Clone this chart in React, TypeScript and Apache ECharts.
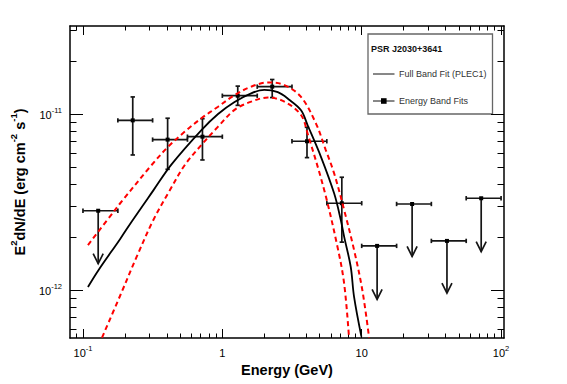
import React, { useEffect, useRef } from 'react';
import * as echarts from 'echarts';

// ---- Data (GeV, erg cm^-2 s^-1) ----
const ptE = [0.2276, 0.405, 0.72, 1.29, 2.28, 4.05, 7.2];
const ptELo = [0.178, 0.316, 0.562, 1.0, 1.78, 3.16, 5.62];
const ptEHi = [0.316, 0.562, 1.0, 1.78, 3.16, 5.62, 10.0];
const ptFlux = [9.2e-12, 7.15e-12, 7.43e-12, 1.27e-11, 1.43e-11, 7.0e-12, 3.11e-12];
const ptFluxLo = [5.85e-12, 4.85e-12, 5.48e-12, 1.12e-11, 1.24e-11, 5.65e-12, 1.87e-12];
const ptFluxHi = [1.25e-11, 9.46e-12, 9.4e-12, 1.44e-11, 1.57e-11, 8.4e-12, 4.37e-12];

const ulE = [0.1286, 12.9, 23, 40.9, 72];
const ulELo = [0.1, 10, 17.8, 31.6, 56.2];
const ulEHi = [0.178, 17.8, 31.6, 56.2, 100];
const ulFlux = [2.82e-12, 1.78e-12, 3.08e-12, 1.9e-12, 3.32e-12];
const ulTip = [1.41e-12, 8.85e-13, 1.55e-12, 9.6e-13, 1.65e-12];

const fitE = [0.1086, 0.1295, 0.185, 0.224, 0.32, 0.432, 0.708, 0.932, 1.224, 1.61, 2.0, 2.5, 3.0, 3.67, 4.1, 5.1, 6.34, 7.08, 7.48, 8.34, 8.81, 9.95];
const fitFlux = [1.04e-12, 1.3e-12, 1.95e-12, 2.45e-12, 3.68e-12, 5.17e-12, 8.1e-12, 1.0e-11, 1.17e-11, 1.31e-11, 1.37e-11, 1.33e-11, 1.21e-11, 1.05e-11, 8.6e-12, 5.71e-12, 3.54e-12, 2.5e-12, 2.01e-12, 1.355e-12, 9.16e-13, 5.43e-13];

const upE = [0.1086, 0.17, 0.185, 0.311, 0.409, 0.538, 0.708, 0.932, 1.224, 1.61, 2.12, 2.79, 3.67, 4.69, 5.5, 6.34, 7.48, 8.81, 10.1, 11.3];
const upFlux = [1.8e-12, 2.85e-12, 3.11e-12, 5.13e-12, 6.52e-12, 7.94e-12, 9.46e-12, 1.1e-11, 1.28e-11, 1.43e-11, 1.51e-11, 1.46e-11, 1.25e-11, 8.85e-12, 6.3e-12, 4.6e-12, 2.85e-12, 1.69e-12, 1.0e-12, 5.36e-13];

const loE = [0.137, 0.185, 0.243, 0.32, 0.421, 0.538, 0.708, 0.932, 1.224, 1.61, 2.12, 2.79, 3.67, 4.1, 5.38, 6.7, 7.48, 8.11];
const loFlux = [5.36e-13, 9.3e-13, 1.545e-12, 2.5e-12, 3.7e-12, 5.13e-12, 6.67e-12, 8.47e-12, 1.055e-11, 1.175e-11, 1.24e-11, 1.175e-11, 9.87e-12, 7.7e-12, 3.7e-12, 1.76e-12, 1.09e-12, 5.36e-13];

// ---- Axes / tick labels ----
const xMajor = [0.1, 1, 10, 100];
const xMajorLabels = ['{b|10}{s|-1}', '{b|1}', '{b|10}', '{b|10}{s|2}'];
const yMajor = [1e-12, 1e-11];
const yMajorLabels = ['{b|10}{s|-12}', '{b|10}{s|-11}'];
const xLogMin = -1.093;
const xLogMax = 2.021;
const yLogMin = -12.273;
const yLogMax = -10.5;

const L = Math.log10;
const FONT = '"Liberation Sans", Arial, Helvetica, sans-serif';

function minorTicks(lo: number, hi: number) {
  const out: number[] = [];
  for (let d = Math.floor(lo) - 1; d <= Math.ceil(hi); d++) {
    for (let k = 2; k <= 9; k++) {
      const v = d + L(k);
      if (v > lo + 0.002 && v < hi - 0.002) out.push(v);
    }
  }
  return out;
}

const xMinor = minorTicks(xLogMin, xLogMax);
const yMinor = minorTicks(yLogMin, yLogMax);

function labelFor(vals: number[], labels: string[]) {
  return (v: number) => {
    for (let i = 0; i < vals.length; i++) if (Math.abs(L(vals[i]) - v) < 1e-6) return labels[i];
    return '';
  };
}

const labelRich = {
  b: { fontSize: 11, fontFamily: FONT, color: '#000', lineHeight: 14, verticalAlign: 'bottom' },
  s: { fontSize: 7.5, fontFamily: FONT, color: '#000', lineHeight: 14, verticalAlign: 'top' },
};

const blank = { show: false };
const noLine = { show: false, onZero: false };

function xAx(position: string, major: boolean, withLabel: boolean) {
  return {
    type: 'value',
    position,
    min: xLogMin,
    max: xLogMax,
    axisLine: major ? { show: true, onZero: false, lineStyle: { color: '#000', width: 1.5 } } : noLine,
    axisTick: {
      show: true,
      inside: true,
      length: major ? 9 : 4.5,
      customValues: major ? xMajor.map(L) : xMinor,
      lineStyle: { color: '#000', width: 1 },
    },
    axisLabel: withLabel
      ? { show: true, customValues: xMajor.map(L), margin: 6, formatter: labelFor(xMajor, xMajorLabels), rich: labelRich }
      : blank,
    splitLine: blank,
    ...(withLabel
      ? {
          name: 'Energy (GeV)',
          nameLocation: 'middle',
          nameGap: 24,
          nameTextStyle: { fontFamily: FONT, fontSize: 14.5, fontWeight: 'bold', color: '#000' },
        }
      : {}),
  };
}

function yAx(position: string, major: boolean, withLabel: boolean) {
  return {
    type: 'value',
    position,
    min: yLogMin,
    max: yLogMax,
    axisLine: major ? { show: true, onZero: false, lineStyle: { color: '#000', width: 1.5 } } : noLine,
    axisTick: {
      show: true,
      inside: true,
      length: major ? 13 : 6.5,
      customValues: major ? yMajor.map(L) : yMinor,
      lineStyle: { color: '#000', width: 1 },
    },
    axisLabel: withLabel
      ? { show: true, customValues: yMajor.map(L), margin: 8, formatter: labelFor(yMajor, yMajorLabels), rich: labelRich }
      : blank,
    splitLine: blank,
    ...(withLabel
      ? {
          name: '{b|E}{s|2}{b|dN/dE (erg cm}{s|-2}{b| s}{s|-1}{b|)}',
          nameLocation: 'middle',
          nameGap: 43,
          nameRotate: 90,
          nameTextStyle: {
            fontFamily: FONT,
            fontSize: 14.5,
            fontWeight: 'bold',
            color: '#000',
            rich: {
              b: { fontFamily: FONT, fontSize: 14.5, fontWeight: 'bold', color: '#000', lineHeight: 19, verticalAlign: 'bottom' },
              s: { fontFamily: FONT, fontSize: 9.5, fontWeight: 'bold', color: '#000', lineHeight: 19, verticalAlign: 'top' },
            },
          },
        }
      : {}),
  };
}

const barStyle = { stroke: '#151515', lineWidth: 1.7 };
const CAP = 2.2;

function hBar(x1: number, x2: number, y: number) {
  return [
    { type: 'line', shape: { x1, y1: y, x2, y2: y }, style: barStyle },
    { type: 'line', shape: { x1, y1: y - CAP, x2: x1, y2: y + CAP }, style: barStyle },
    { type: 'line', shape: { x1: x2, y1: y - CAP, x2, y2: y + CAP }, style: barStyle },
  ];
}

function marker(c: number[]) {
  return { type: 'rect', shape: { x: c[0] - 2, y: c[1] - 2, width: 4, height: 4 }, style: { fill: '#000' } };
}

const pointData = ptE.map((e, i) => [L(e), L(ptFlux[i]), L(ptELo[i]), L(ptEHi[i]), L(ptFluxLo[i]), L(ptFluxHi[i])]);
const ulData = ulE.map((e, i) => [L(e), L(ulFlux[i]), L(ulELo[i]), L(ulEHi[i]), L(ulTip[i])]);

const lineData = (xs: number[], ys: number[]) => xs.map((x, i) => [L(x), L(ys[i])]);

const curve = (xs: number[], ys: number[], color: string, width: number, dashed: boolean) => ({
  type: 'line',
  data: lineData(xs, ys),
  showSymbol: false,
  smooth: 0.35,
  lineStyle: { color, width, type: dashed ? [5, 3.5] : 'solid' },
  clip: true,
  silent: true,
});

const option: any = {
  animation: false,
  backgroundColor: '#fff',
  grid: { left: 68, right: 63, top: 26, bottom: 46, containLabel: false },
  xAxis: [xAx('bottom', true, true), xAx('bottom', false, false), xAx('top', true, false), xAx('top', false, false)],
  yAxis: [yAx('left', true, true), yAx('left', false, false), yAx('right', true, false), yAx('right', false, false)],
  series: [
    curve(upE, upFlux, '#ff0000', 2, true),
    curve(loE, loFlux, '#ff0000', 2, true),
    curve(fitE, fitFlux, '#000', 1.8, false),
    {
      type: 'custom',
      data: pointData,
      encode: { x: 0, y: 1 },
      silent: true,
      renderItem: (_p: any, api: any) => {
        const x = api.value(0), y = api.value(1);
        const c = api.coord([x, y]);
        const xl = api.coord([api.value(2), y]);
        const xh = api.coord([api.value(3), y]);
        const yl = api.coord([x, api.value(4)]);
        const yh = api.coord([x, api.value(5)]);
        return {
          type: 'group',
          children: [
            ...hBar(xl[0], xh[0], c[1]),
            { type: 'line', shape: { x1: c[0], y1: yl[1], x2: c[0], y2: yh[1] }, style: barStyle },
            { type: 'line', shape: { x1: c[0] - CAP, y1: yl[1], x2: c[0] + CAP, y2: yl[1] }, style: barStyle },
            { type: 'line', shape: { x1: c[0] - CAP, y1: yh[1], x2: c[0] + CAP, y2: yh[1] }, style: barStyle },
            marker(c),
          ],
        };
      },
    },
    {
      type: 'custom',
      data: ulData,
      encode: { x: 0, y: 1 },
      silent: true,
      renderItem: (_p: any, api: any) => {
        const x = api.value(0), y = api.value(1);
        const c = api.coord([x, y]);
        const xl = api.coord([api.value(2), y]);
        const xh = api.coord([api.value(3), y]);
        const t = api.coord([x, api.value(4)]);
        return {
          type: 'group',
          children: [
            ...hBar(xl[0], xh[0], c[1]),
            { type: 'line', shape: { x1: c[0], y1: c[1], x2: c[0], y2: t[1] }, style: barStyle },
            {
              type: 'polyline',
              shape: { points: [[c[0] - 5, t[1] - 10], [c[0], t[1]], [c[0] + 5, t[1] - 10]] },
              style: { stroke: '#151515', lineWidth: 1.7, fill: 'none' },
            },
            marker(c),
          ],
        };
      },
    },
  ],
  graphic: [
    {
      type: 'group',
      children: [
        { type: 'rect', shape: { x: 368, y: 34, width: 124.5, height: 80 }, style: { fill: '#fff', stroke: '#666', lineWidth: 1.3 } },
        { type: 'text', x: 371, y: 49, style: { text: 'PSR J2030+3641', font: `bold 9px ${FONT}`, fill: '#111', verticalAlign: 'middle' } },
        { type: 'line', shape: { x1: 373, y1: 74, x2: 394.5, y2: 74 }, style: { stroke: '#111', lineWidth: 1 } },
        { type: 'text', x: 399, y: 74, style: { text: 'Full Band Fit (PLEC1)', font: `9px ${FONT}`, fill: '#333', verticalAlign: 'middle' } },
        { type: 'line', shape: { x1: 373, y1: 101, x2: 394.5, y2: 101 }, style: { stroke: '#111', lineWidth: 1 } },
        { type: 'rect', shape: { x: 381, y: 98.2, width: 5.6, height: 5.6 }, style: { fill: '#000' } },
        { type: 'text', x: 399, y: 101, style: { text: 'Energy Band Fits', font: `9px ${FONT}`, fill: '#333', verticalAlign: 'middle' } },
      ],
    },
  ],
};

export default function App() {
  const ref = useRef<HTMLDivElement>(null);
  useEffect(() => {
    const chart = echarts.init(ref.current as HTMLDivElement, null, { renderer: 'svg' });
    chart.setOption(option);
    return () => chart.dispose();
  }, []);
  return (
    <div
      ref={ref}
      style={{ position: 'fixed', left: 0, top: 0, width: 567, height: 384, background: '#fff' }}
    />
  );
}
